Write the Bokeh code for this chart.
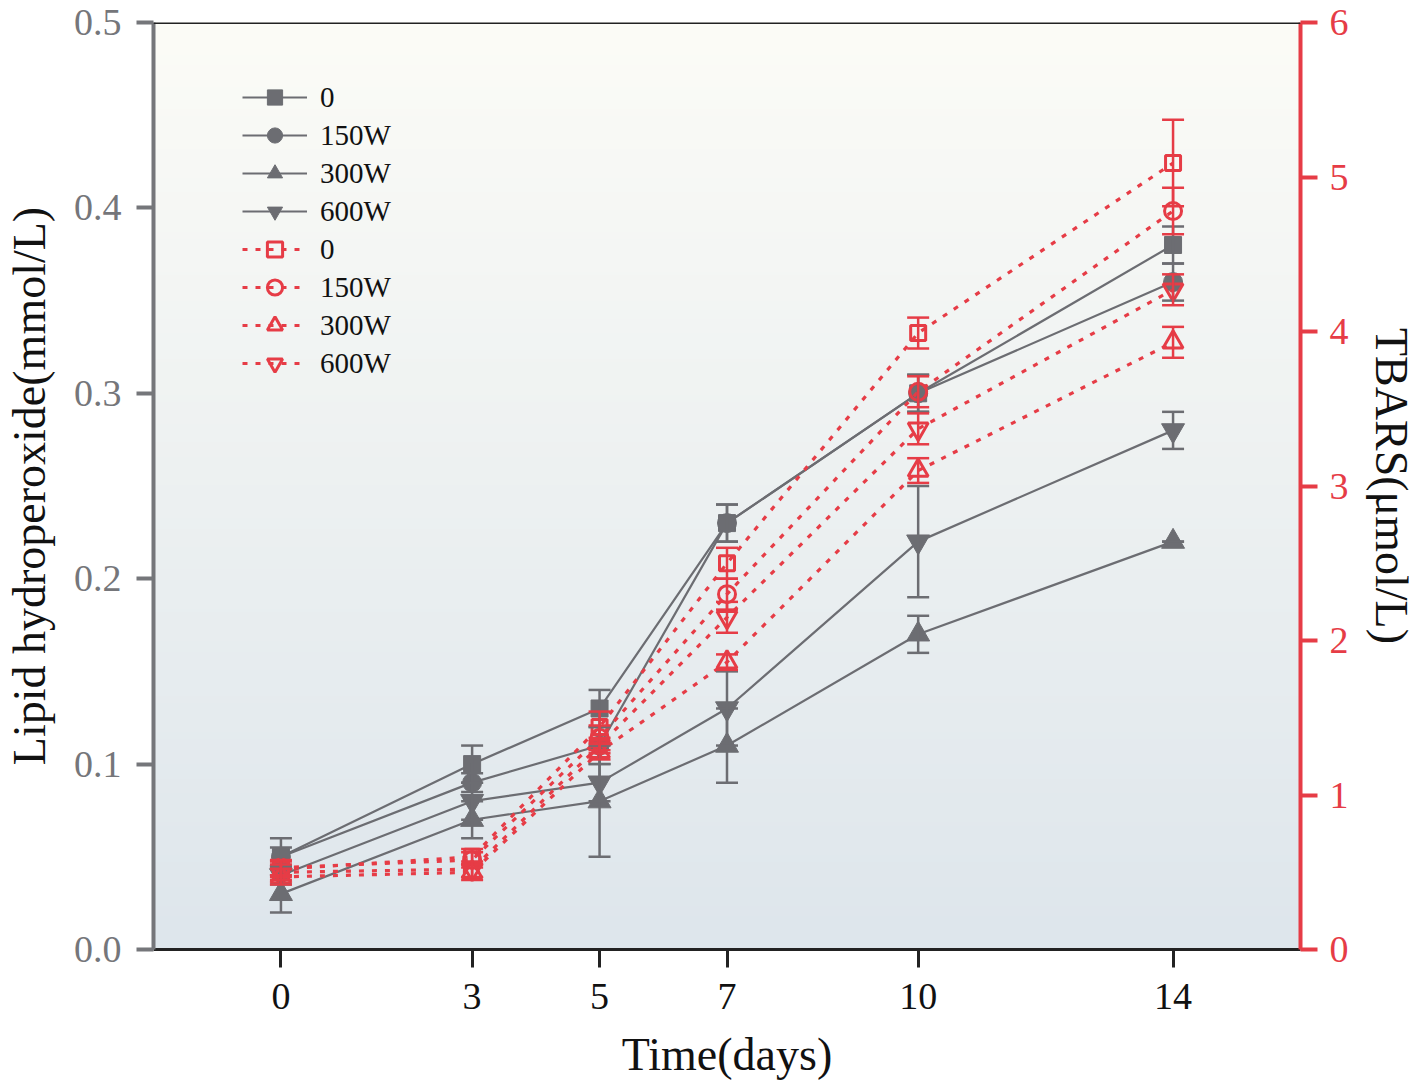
import numpy as np
from bokeh.plotting import figure
from bokeh.models import (Range1d, LinearAxis, FixedTicker, Legend, LegendItem,
                          Whisker, TeeHead, ColumnDataSource, Span, NumeralTickFormatter)
from bokeh.embed import file_html
from bokeh.resources import INLINE

# ---------------- data ----------------
days = [0, 3, 5, 7, 10, 14]
groups = ["0", "150W", "300W", "600W"]

# Lipid hydroperoxide (mmol/L), left axis
lh_0 = [0.05, 0.10, 0.13, 0.23, 0.30, 0.38]
lh_150 = [0.05, 0.09, 0.11, 0.23, 0.30, 0.36]
lh_300 = [0.03, 0.07, 0.08, 0.11, 0.17, 0.22]
lh_600 = [0.04, 0.08, 0.09, 0.13, 0.22, 0.28]
lh_err_0 = [0.01, 0.01, 0.01, 0.01, 0.01, 0.01]
lh_err_150 = [0.005, 0.005, 0.01, 0.01, 0.01, 0.01]
lh_err_300 = [0.01, 0.01, 0.03, 0.02, 0.01, 0.0]
lh_err_600 = [0.005, 0.01, 0.01, 0.02, 0.03, 0.01]

# TBARS (umol/L), right axis
tb_0 = [0.52, 0.60, 1.44, 2.50, 3.99, 5.09]
tb_150 = [0.53, 0.58, 1.37, 2.30, 3.61, 4.78]
tb_300 = [0.47, 0.50, 1.28, 1.86, 3.10, 3.93]
tb_600 = [0.50, 0.52, 1.32, 2.15, 3.37, 4.27]
tb_err_0 = [0.05, 0.05, 0.10, 0.10, 0.10, 0.28]
tb_err_150 = [0.05, 0.05, 0.08, 0.10, 0.10, 0.15]
tb_err_300 = [0.05, 0.05, 0.05, 0.05, 0.08, 0.10]
tb_err_600 = [0.05, 0.05, 0.05, 0.10, 0.10, 0.10]

x_ticks = [0, 3, 5, 7, 10, 14]
left_ticks = [0.0, 0.1, 0.2, 0.3, 0.4, 0.5]
right_ticks = [0, 1, 2, 3, 4, 5, 6]

x_start, x_end = -2, 16
left_start, left_end = 0, 0.5
right_start, right_end = 0, 6

GRAY = "#6c6d72"
AXGRAY = "#75767a"
RED = "#e63c46"
FONT = "Liberation Serif"

p = figure(frame_width=1147, frame_height=927, output_backend="svg", toolbar_location=None,
           x_range=Range1d(x_start, x_end), y_range=Range1d(left_start, left_end),
           min_border_left=151, min_border_right=115, min_border_top=22, min_border_bottom=130)
p.outline_line_color = None
p.grid.visible = False
p.background_fill_color = "white"
p.border_fill_color = "white"

# gradient background
n = 256
img = np.empty((n, 1), dtype=np.uint32)
view = img.view(dtype=np.uint8).reshape((n, 1, 4))
t = np.linspace(0, 1, n)  # 0 bottom -> 1 top
bottom_c = np.array([222, 230, 236])
top_c = np.array([252, 252, 247])
for i in range(3):
    view[:, 0, i] = (bottom_c[i] + (top_c[i] - bottom_c[i]) * t).astype(np.uint8)
view[:, 0, 3] = 255
p.image_rgba(image=[img], x=x_start, y=left_start, dw=x_end - x_start, dh=left_end - left_start)

p.extra_y_ranges = {"tb": Range1d(right_start, right_end)}

# axes
xa = p.xaxis[0]
xa.ticker = FixedTicker(ticks=x_ticks)
xa.axis_label = "Time(days)"
xa.axis_line_color = "#222222"
xa.axis_line_width = 3
xa.major_tick_line_color = "#222222"
xa.major_tick_line_width = 3
xa.major_tick_out = 18
xa.major_tick_in = 0
xa.minor_tick_line_color = None
xa.major_label_text_font = FONT
xa.major_label_text_font_size = "38px"
xa.major_label_text_color = "#111111"
xa.major_label_standoff = 16
xa.axis_label_text_font = FONT
xa.axis_label_text_font_size = "46px"
xa.axis_label_text_font_style = "normal"
xa.axis_label_text_color = "#111111"
xa.axis_label_standoff = 17

ya = p.yaxis[0]
ya.ticker = FixedTicker(ticks=left_ticks)
ya.formatter = NumeralTickFormatter(format="0.0")
ya.axis_label = "Lipid hydroperoxide(mmol/L)"
ya.axis_line_color = AXGRAY
ya.axis_line_width = 4
ya.major_tick_line_color = AXGRAY
ya.major_tick_line_width = 4
ya.major_tick_out = 17
ya.major_tick_in = 0
ya.minor_tick_line_color = None
ya.major_label_text_font = FONT
ya.major_label_text_font_size = "38px"
ya.major_label_text_color = AXGRAY
ya.major_label_standoff = 15
ya.axis_label_text_font = FONT
ya.axis_label_text_font_size = "46px"
ya.axis_label_text_font_style = "normal"
ya.axis_label_text_color = "#111111"
ya.axis_label_standoff = 16

ra = LinearAxis(y_range_name="tb", axis_label="TBARS(μmol/L)")
ra.ticker = FixedTicker(ticks=right_ticks)
ra.axis_line_color = RED
ra.axis_line_width = 4
ra.major_tick_line_color = RED
ra.major_tick_line_width = 4
ra.major_tick_out = 17
ra.major_tick_in = 0
ra.minor_tick_line_color = None
ra.major_label_text_font = FONT
ra.major_label_text_font_size = "38px"
ra.major_label_text_color = RED
ra.major_label_standoff = 12
ra.axis_label_text_font = FONT
ra.axis_label_text_font_size = "46px"
ra.axis_label_text_font_style = "normal"
ra.axis_label_text_color = "#111111"
ra.axis_label_standoff = 14
ra.axis_label_orientation = "vertical"
p.add_layout(ra, "right")

# top border
p.add_layout(Span(location=left_end, dimension="width", line_color="#222222", line_width=3))

lh_vals = [lh_0, lh_150, lh_300, lh_600]
lh_errs = [lh_err_0, lh_err_150, lh_err_300, lh_err_600]
tb_vals = [tb_0, tb_150, tb_300, tb_600]
tb_errs = [tb_err_0, tb_err_150, tb_err_300, tb_err_600]
markers = ["square", "circle", "triangle", "inverted_triangle"]
gsizes = [17, 19, 23, 23]
rsizes = [15, 17, 20, 20]

items = []
# gray series
for g, vals, errs, mk, sz in zip(groups, lh_vals, lh_errs, markers, gsizes):
    src = ColumnDataSource(dict(x=days, y=vals,
                                lo=[v - e for v, e in zip(vals, errs)],
                                hi=[v + e for v, e in zip(vals, errs)]))
    ln = p.line("x", "y", source=src, line_color=GRAY, line_width=2.2)
    w = Whisker(source=src, base="x", lower="lo", upper="hi", dimension="height",
                line_color=GRAY, line_width=2.5,
                upper_head=TeeHead(size=22, line_color=GRAY, line_width=2.5),
                lower_head=TeeHead(size=22, line_color=GRAY, line_width=2.5))
    w.level = "glyph"
    p.add_layout(w)
    sc = p.scatter("x", "y", source=src, marker=mk, size=sz, fill_color=GRAY, line_color=GRAY)
    items.append(LegendItem(label=g, renderers=[ln, sc]))

# red series
for g, vals, errs, mk, sz in zip(groups, tb_vals, tb_errs, markers, rsizes):
    src = ColumnDataSource(dict(x=days, y=vals,
                                lo=[v - e for v, e in zip(vals, errs)],
                                hi=[v + e for v, e in zip(vals, errs)]))
    ln = p.line("x", "y", source=src, line_color=RED, line_width=3.2, line_dash="5 8",
                y_range_name="tb")
    w = Whisker(source=src, base="x", lower="lo", upper="hi", dimension="height",
                line_color=RED, line_width=2.5, y_range_name="tb",
                upper_head=TeeHead(size=22, line_color=RED, line_width=2.5),
                lower_head=TeeHead(size=22, line_color=RED, line_width=2.5))
    w.level = "glyph"
    p.add_layout(w)
    sc = p.scatter("x", "y", source=src, marker=mk, size=sz, fill_alpha=0,
                   line_color=RED, line_width=3, y_range_name="tb")
    items.append(LegendItem(label=g, renderers=[ln, sc]))

legend = Legend(items=items, location=(89, 567))
legend.background_fill_alpha = 0
legend.border_line_color = None
legend.glyph_width = 65
legend.glyph_height = 38
legend.label_standoff = 13
legend.spacing = 0
legend.padding = 0
legend.margin = 0
legend.label_text_font = FONT
legend.label_text_font_size = "29px"
legend.label_text_color = "#111111"
p.add_layout(legend)

open("out.html", "w").write(file_html(p, INLINE))
